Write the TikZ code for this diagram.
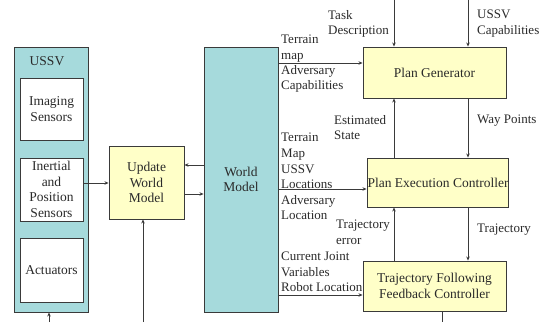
\documentclass[tikz,border=0pt]{standalone}
\usepackage{fontspec}
\setmainfont{Liberation Serif}
\usetikzlibrary{arrows.meta}
\definecolor{cyanfill}{HTML}{A6DADC}
\definecolor{yellowfill}{HTML}{FFFFC8}
\definecolor{linec}{HTML}{3A3A3A}
\definecolor{textc}{HTML}{2A2A2A}
\tikzset{
  blk/.style={draw=linec, line width=0.9pt, inner sep=0pt},
  cyanblk/.style={blk, fill=cyanfill},
  yelblk/.style={blk, fill=yellowfill},
  whiteblk/.style={blk, fill=white},
  boxtxt/.style={font=\fontsize{13.5}{15.5}\selectfont, text=textc, align=center, inner sep=0pt},
  lbl/.style={font=\fontsize{13}{15.3}\selectfont, text=textc, align=left, inner sep=0pt, anchor=north west},
  arr/.style={draw=linec, line width=0.8pt, -{Stealth[length=4pt,width=3.5pt]}},
  ln/.style={draw=linec, line width=0.8pt}
}
\begin{document}
\begin{tikzpicture}[x=1pt,y=-1pt]
\useasboundingbox (0,0) rectangle (544,322);
\fill[white] (0,0) rectangle (544,322);
% USSV
\node[cyanblk, minimum width=74pt, minimum height=265pt] (ussv) at (51,179.5) {};
\node[boxtxt] (ussvt) at (47,61) {USSV};
\node[whiteblk, minimum width=63pt, minimum height=62pt] (img) at (51.5,109) {};
\node[boxtxt] at (img.center) {Imaging\\Sensors};
\node[whiteblk, minimum width=63pt, minimum height=63pt] (ine) at (51.5,189.5) {};
\node[boxtxt] at (ine.center) {Inertial\\and\\Position\\Sensors};
\node[whiteblk, minimum width=63pt, minimum height=64pt] (act) at (51.5,270) {};
\node[boxtxt] at (act.center) {Actuators};
% Update World Model
\node[yelblk, minimum width=75pt, minimum height=73pt] (uwm) at (146.5,182.5) {};
\node[boxtxt] at (uwm.center) {Update\\World\\Model};
% World Model
\node[cyanblk, minimum width=74pt, minimum height=265pt] (wm) at (241,179.5) {};
\node[boxtxt] at (wm.center) {World\\Model};
% Right blocks
\node[yelblk, minimum width=143pt, minimum height=51pt] (pg) at (434.5,72.5) {};
\node[boxtxt] at (pg.center) {Plan Generator};
\node[yelblk, minimum width=141pt, minimum height=49pt] (pec) at (437.5,182.5) {};
\node[boxtxt] at (438,183) {Plan Execution Controller};
\node[yelblk, minimum width=143pt, minimum height=50pt] (tfc) at (434.5,286) {};
\node[boxtxt] at (tfc.center) {Trajectory Following\\Feedback Controller};
% coordinates
\coordinate (ussvin) at (49,322);
\coordinate (uwmin) at (143,322);
\coordinate (tdtop) at (394,0);
\coordinate (uctop) at (468,0);
\coordinate (tfcout) at (442,322);
% arrows
\draw[arr] (ussvin) -- (ussv.south -| ussvin);
\draw[arr] (ine.east |- 0,183) -- (uwm.west |- 0,183);
\draw[arr] (wm.west |- 0,165) -- (uwm.east |- 0,165);
\draw[arr] (uwm.east |- 0,194) -- (wm.west |- 0,194);
\draw[arr] (uwmin) -- (uwm.south -| uwmin);
\draw[arr] (wm.east |- 0,63) -- (pg.west |- 0,63);
\draw[arr] (wm.east |- 0,189) -- (pec.west |- 0,189);
\draw[arr] (wm.east |- 0,295) -- (tfc.west |- 0,295);
\draw[arr] (tdtop) -- (pg.north -| tdtop);
\draw[arr] (uctop) -- (pg.north -| uctop);
\draw[arr] (pec.north -| tdtop) -- (pg.south -| tdtop);
\draw[arr] (pg.south -| uctop) -- (pec.north -| uctop);
\draw[arr] (tfc.north -| tdtop) -- (pec.south -| tdtop);
\draw[arr] (pec.south -| uctop) -- (tfc.north -| uctop);
\draw[ln] (tfc.south -| tfcout) -- (tfcout);
% labels
\node[lbl] at (281,35) {Terrain\\map\\Adversary\\Capabilities};
\node[lbl] at (328,10) {Task\\Description};
\node[lbl] at (477,10) {USSV\\Capabilities};
\node[lbl] at (334,115) {Estimated\\State};
\node[lbl] at (477,115) {Way Points};
\node[lbl, font=\fontsize{13}{15.6}\selectfont] at (281,133) {Terrain\\Map\\USSV\\Locations\\Adversary\\Location};
\node[lbl] at (336,220) {Trajectory\\error};
\node[lbl] at (477,224) {Trajectory};
\node[lbl] at (281,252) {Current Joint\\Variables\\Robot Location};
\end{tikzpicture}
\end{document}
